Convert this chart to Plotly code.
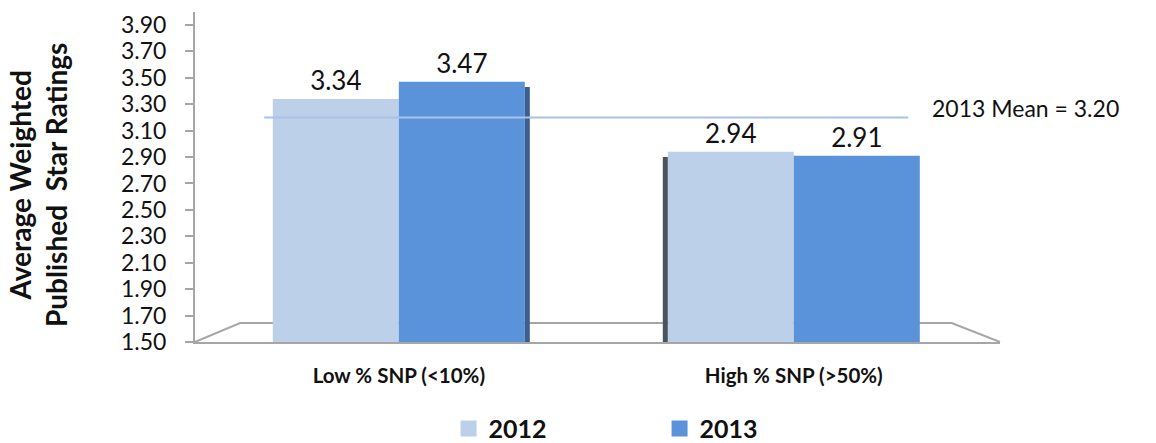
import plotly.graph_objects as go

categories = ["Low % SNP (<10%)", "High % SNP (>50%)"]
series_names = ["2012", "2013"]
values_2012 = [3.34, 2.94]
values_2013 = [3.47, 2.91]
mean_2013 = 3.20
y_ticks = [1.5 + 0.2 * i for i in range(13)]

FONT = "Lato"
c2012 = "#bdd0e9"
c2013 = "#5b93da"
bargap = 0.362
bw = (1 - bargap) / 2
BASE = 1.5

fig = go.Figure()
for vals, name, col in [(values_2012, series_names[0], c2012), (values_2013, series_names[1], c2013)]:
    fig.add_trace(go.Bar(
        x=[0, 1], y=[v - BASE for v in vals], base=BASE, name=name,
        marker=dict(color=col, line=dict(width=0)),
        text=[f"{v:.2f}" for v in vals], textposition="outside",
        textfont=dict(family=FONT, size=26, color="#111"), cliponaxis=False,
        showlegend=False,
    ))
# legend entries with square swatches
for name, col in [(series_names[0], c2012), (series_names[1], c2013)]:
    fig.add_trace(go.Scatter(x=[None], y=[None], mode="markers", name=name,
                             marker=dict(symbol="square", size=16, color=col)))

shapes = []
# floor (decorative 3D look)
shapes.append(dict(type="path", xref="paper", yref="y",
                   path="M 0,1.5 L 0.056,1.644 L 0.94,1.644 L 1.0,1.5",
                   line=dict(color="#a6a6a6", width=2), layer="below"))
# 3D side faces
shapes.append(dict(type="rect", xref="x", yref="y", xsizemode="pixel", xanchor=0 + bw,
                   x0=0, x1=5, y0=BASE, y1=values_2013[0] - 0.04,
                   fillcolor="#3b5f8e", line=dict(width=0), layer="above"))
shapes.append(dict(type="rect", xref="x", yref="y", xsizemode="pixel", xanchor=1 - bw,
                   x0=-5, x1=0, y0=BASE, y1=values_2012[1] - 0.04,
                   fillcolor="#4b545e", line=dict(width=0), layer="above"))
# mean line
shapes.append(dict(type="line", xref="paper", yref="y", x0=0.086, x1=0.886,
                   y0=mean_2013, y1=mean_2013, line=dict(color="#a9c2e6", width=2), layer="above"))

fig.update_layout(
    width=1156, height=443,
    margin=dict(l=195, r=156, t=12, b=101, autoexpand=False),
    paper_bgcolor="white", plot_bgcolor="white",
    barmode="group", bargap=bargap, bargroupgap=0,
    font=dict(family=FONT, color="#111"),
    shapes=shapes,
    showlegend=True,
    legend=dict(orientation="h", x=0.315, xanchor="left", yref="container", y=0.032, yanchor="middle",
                font=dict(family=FONT, size=25, color="#111", weight="bold"),
                entrywidth=166, bgcolor="rgba(0,0,0,0)"),
    annotations=[
        dict(text="2013 Mean = " + f"{mean_2013:.2f}", xref="paper", yref="y",
             x=0.913, y=mean_2013 + 0.07, xanchor="left", yanchor="middle", showarrow=False,
             font=dict(family=FONT, size=23, color="#111")),
        dict(text="Average Weighted<br>Published\u00a0\u00a0Star Ratings", xref="paper", yref="paper",
             x=-0.195, y=0.476, xanchor="center", yanchor="middle", textangle=-90, showarrow=False,
             font=dict(family=FONT, size=28, color="#111", weight="bold")),
    ],
)
fig.update_xaxes(range=[-0.516, 1.522], tickvals=[0, 1], ticktext=categories,
                 showline=True, linecolor="#a6a6a6", linewidth=2, ticks="", showgrid=False,
                 tickfont=dict(family=FONT, size=20.5, color="#111", weight="bold"),
                 ticklabelstandoff=14, zeroline=False)
fig.update_yaxes(range=[1.5, 3.998], tickvals=y_ticks, ticktext=[f"{t:.2f}" for t in y_ticks],
                 showline=True, linecolor="#a6a6a6", linewidth=2, ticks="outside", ticklen=8,
                 tickcolor="#a6a6a6", tickwidth=2, showgrid=False, zeroline=False,
                 ticklabelstandoff=14,
                 tickfont=dict(family=FONT, size=23, color="#111"))

fig.write_html("out.html")
